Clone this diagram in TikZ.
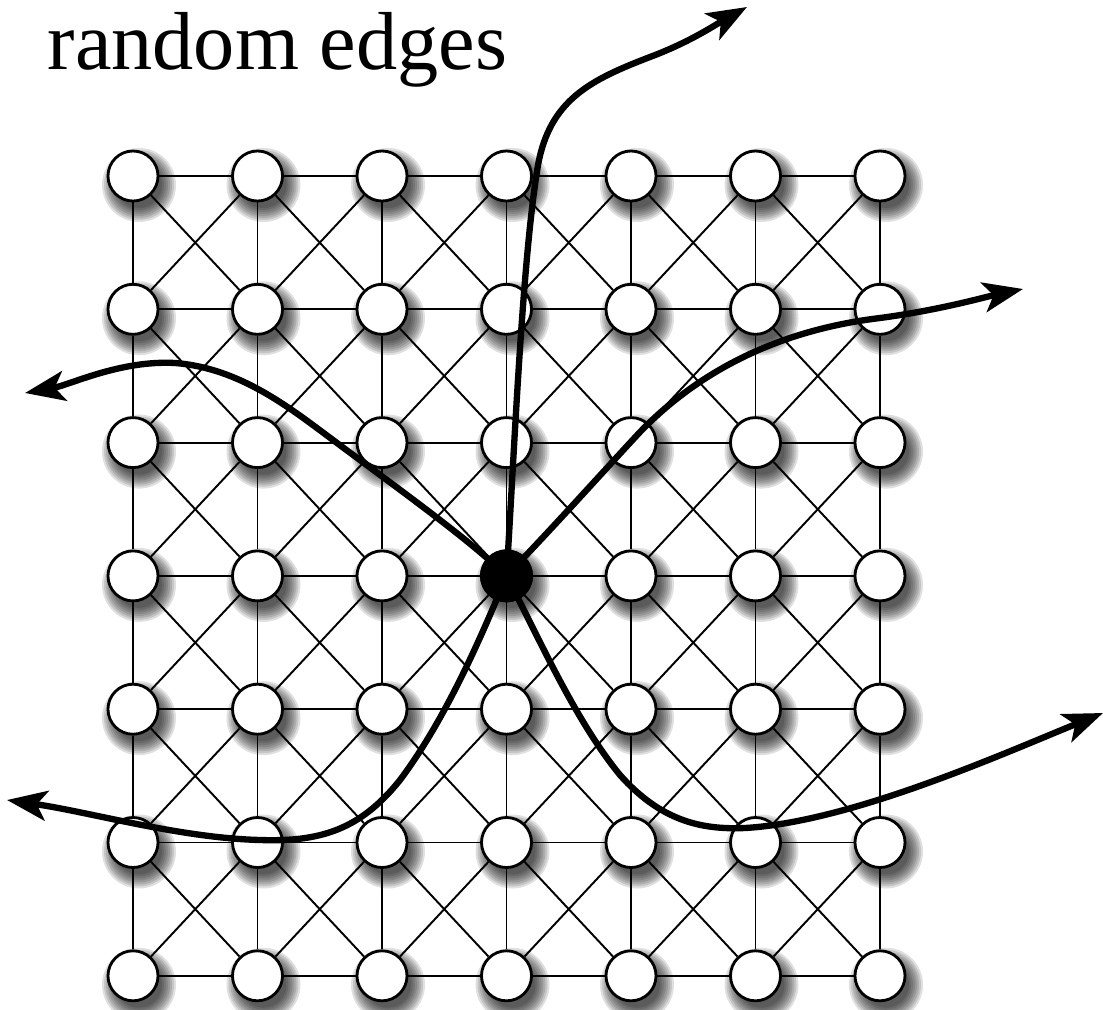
\documentclass[tikz,border=0pt]{standalone}
\usepackage{fontspec}
\setmainfont{Liberation Serif}
\usetikzlibrary{arrows.meta}

\begin{document}
\begin{tikzpicture}[x=0.01cm, y=-0.01cm,
    >={Stealth[length=4mm, width=3mm, inset=1mm]},
    vertex/.style={circle, draw, line width=0.8pt, fill=white, minimum size=0.5cm, inner sep=0pt},
    hub/.style={circle, fill=black, minimum size=0.53cm, inner sep=0pt},
    link/.style={line width=0.55pt},
    jump/.style={->, line width=1.8pt},
    shade/.style={black, opacity=0.12},
  ]
  \useasboundingbox (0,0) rectangle (1103,1009);
  \node[anchor=base west, inner sep=0pt, font=\fontsize{23.4}{28}\selectfont] (title) at (47,70) {random edges};

  % grid points (column i, row j)
  \foreach \i in {1,...,7} {
    \foreach \j in {1,...,7} {
      \coordinate (p\i\j) at ({133+124.5*(\i-1)}, {176+133.3*(\j-1)});
    }
  }
  % soft shadows
  \foreach \i in {1,...,7} {
    \foreach \j in {1,...,7} {
      \foreach \r in {37,35,...,23}
        \fill[shade] ([shift={(6,9)}]p\i\j) circle[radius=\r];
    }
  }
  % nodes
  \foreach \i in {1,...,7} {
    \foreach \j in {1,...,7} {
      \node[vertex] (v\i\j) at (p\i\j) {};
    }
  }
  % lattice edges
  \foreach \i in {1,...,7} {
    \foreach \j [evaluate=\j as \k using int(\j+1)] in {1,...,6} {
      \draw[link] (v\i\j) -- (v\i\k);
      \draw[link] (v\j\i) -- (v\k\i);
    }
  }
  \foreach \i [evaluate=\i as \ii using int(\i+1)] in {1,...,6} {
    \foreach \j [evaluate=\j as \jj using int(\j+1)] in {1,...,6} {
      \draw[link] (v\i\j) -- (v\ii\jj);
      \draw[link] (v\ii\j) -- (v\i\jj);
    }
  }

  % random edges
  \node[hub] (hub) at (p44) {};
  \coordinate (endN) at (747,7);
  \coordinate (endNE) at (1023,289);
  \coordinate (endNW) at (25,393);
  \coordinate (endSW) at (7,800);
  \coordinate (endSE) at (1103,713);
  \draw[jump] (hub.center) .. controls (514,460) and (522,260) .. (538,165)
    .. controls (550,100) and (590,80) .. (650,57)
    .. controls (690,42) and (715,25) .. (endN);
  \draw[jump] (hub.center) .. controls (560,520) and (600,475) .. (640,432)
    .. controls (700,370) and (780,330) .. (880,318)
    .. controls (940,310) and (985,297) .. (endNE);
  \draw[jump] (hub.center) .. controls (470,540) and (400,490) .. (333,440)
    .. controls (290,408) and (240,368) .. (175,363)
    .. controls (120,360) and (70,385) .. (endNW);
  \draw[jump] (hub.center) .. controls (480,640) and (445,720) .. (400,780)
    .. controls (360,830) and (320,842) .. (260,840)
    .. controls (180,838) and (90,812) .. (endSW);
  \draw[jump] (hub.center) .. controls (540,640) and (575,720) .. (620,775)
    .. controls (660,820) and (700,830) .. (745,828)
    .. controls (850,822) and (1000,755) .. (endSE);
\end{tikzpicture}
\end{document}
